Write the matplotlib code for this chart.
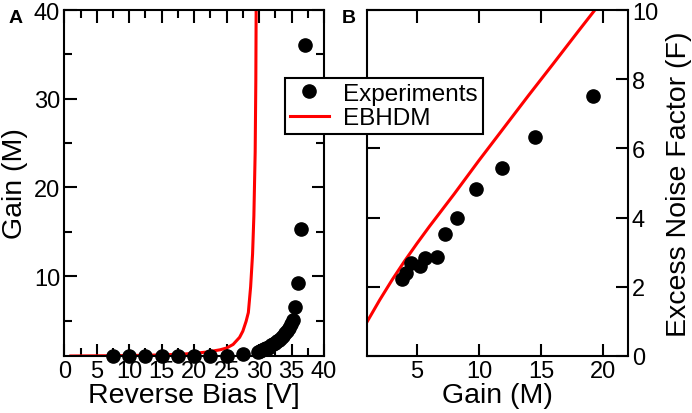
import numpy as np
import matplotlib
matplotlib.use('Agg')
import matplotlib.pyplot as plt
from matplotlib.ticker import MultipleLocator

plt.rcParams['font.family'] = ['Liberation Sans', 'DejaVu Sans']

# Panel A: gain vs reverse bias
bias_exp = [7.5, 10, 12.5, 15, 17.5, 20, 22.5, 25, 27.5,
            29.8, 30.1, 30.4, 30.7, 31.0, 31.3, 31.6, 31.9, 32.2, 32.5,
            32.8, 33.1, 33.4, 33.7, 34.0, 34.3, 34.6, 34.9, 35.2,
            35.5, 36.0, 36.4, 37.0]
gain_exp = [1.0, 1.0, 1.0, 1.0, 1.0, 1.0, 1.0, 1.05, 1.2,
            1.45, 1.55, 1.65, 1.75, 1.85, 1.95, 2.05, 2.2, 2.35, 2.5,
            2.65, 2.85, 3.05, 3.3, 3.55, 3.85, 4.2, 4.6, 5.1,
            6.5, 9.2, 15.3, 36.0]
bias_model = [1, 5, 10, 15, 18, 20, 22, 24, 25, 26, 27, 27.5, 28,
              28.35, 28.7, 29.0, 29.2, 29.4, 29.5, 29.55]
gain_model = [1.0, 1.02, 1.05, 1.12, 1.2, 1.3, 1.45, 1.7, 1.9, 2.3, 3.1, 3.8, 4.9,
              5.9, 8.8, 12.5, 16.8, 24, 32, 40]

# Panel B: excess noise factor vs gain
m_exp = [3.82, 4.14, 4.55, 5.22, 5.62, 6.62, 7.25, 8.2, 9.74, 11.89, 14.49, 19.17]
f_exp = [2.22, 2.41, 2.68, 2.61, 2.83, 2.85, 3.53, 3.99, 4.84, 5.42, 6.33, 7.51]
m_model = [1, 2, 3, 4, 5, 6, 8, 10, 12, 14, 16, 18, 19.35]
f_model = [1.0, 1.62, 2.2, 2.74, 3.25, 3.74, 4.68, 5.65, 6.59, 7.53, 8.45, 9.38, 10.0]

red = '#ff0000'
fig = plt.figure(figsize=(6.92, 4.14), dpi=100)
axA = fig.add_axes([0.0929, 0.1377, 0.3753, 0.8357])
axB = fig.add_axes([0.5308, 0.1377, 0.3763, 0.8357])

def style(ax):
    for s in ax.spines.values():
        s.set_linewidth(1.5)
    ax.tick_params(which='both', direction='in', top=True, right=True,
                   width=1.5, labelsize=17, pad=3)
    ax.tick_params(which='major', length=9)
    ax.tick_params(which='minor', length=5.5)

axA.plot(bias_model, gain_model, color=red, lw=2.2, zorder=2)
axA.plot(bias_exp, gain_exp, 'o', color='black', ms=9.5, zorder=3, clip_on=False)
axA.set_xlim(0, 40)
axA.set_ylim(1, 40)
axA.xaxis.set_major_locator(MultipleLocator(5))
axA.xaxis.set_minor_locator(MultipleLocator(2.5))
axA.set_yticks([10, 20, 30, 40])
axA.set_yticks([5, 15, 25, 35], minor=True)
style(axA)
axA.set_xlabel('Reverse Bias [V]', fontsize=20.5, labelpad=0)
axA.set_ylabel('Gain (M)', fontsize=20.5, labelpad=4)

lm, = axB.plot(m_model, f_model, color=red, lw=2.2, zorder=2)
pe, = axB.plot(m_exp, f_exp, 'o', color='black', ms=9.5, zorder=3)
axB.set_xlim(1, 22)
axB.set_ylim(0, 10)
axB.set_xticks([5, 10, 15, 20])
axB.set_yticks([0, 2, 4, 6, 8, 10])
style(axB)
axB.yaxis.tick_right()
axB.yaxis.set_ticks_position('both')
axB.yaxis.set_label_position('right')
axB.set_xlabel('Gain (M)', fontsize=20.5, labelpad=0)
axB.set_ylabel('Excess Noise Factor (F)', fontsize=20.5, labelpad=6)

leg = fig.legend([pe, lm], ['Experiments', 'EBHDM'], loc='upper left',
                 bbox_to_anchor=(0.4119, 0.8092), fontsize=17.5, frameon=True,
                 fancybox=False, edgecolor='black', borderaxespad=0,
                 handlelength=1.6, handletextpad=0.6, borderpad=0.2,
                 labelspacing=0.1)
leg.get_frame().set_linewidth(1.5)
leg.get_frame().set_alpha(1)

fig.text(0.012, 0.975, 'A', fontsize=14, fontweight='bold', va='top')
fig.text(0.494, 0.975, 'B', fontsize=14, fontweight='bold', va='top')

fig.savefig('out.png', dpi=100)
